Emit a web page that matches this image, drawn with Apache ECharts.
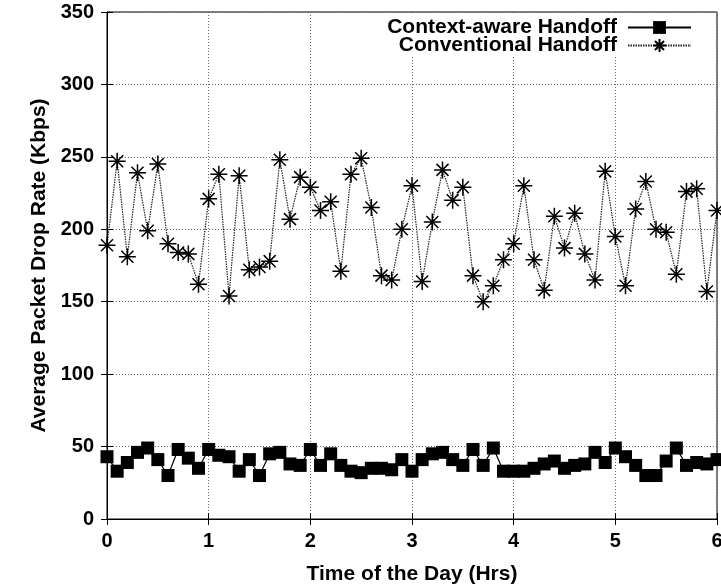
<!DOCTYPE html>
<html><head><meta charset="utf-8">
<script src="https://cdn.jsdelivr.net/npm/echarts@6/dist/echarts.min.js"></script>
<style>html,body{margin:0;padding:0;background:#fff}#c{width:721px;height:586px}</style>
</head><body><div id="c"></div>
<script>
const times = [0,0.1,0.2,0.3,0.4,0.5,0.6,0.7,0.8,0.9,1.0,1.1,1.2,1.3,1.4,1.5,1.6,1.7,1.8,1.9,2.0,2.1,2.2,2.3,2.4,2.5,2.6,2.7,2.8,2.9,3.0,3.1,3.2,3.3,3.4,3.5,3.6,3.7,3.8,3.9,4.0,4.1,4.2,4.3,4.4,4.5,4.6,4.7,4.8,4.9,5.0,5.1,5.2,5.3,5.4,5.5,5.6,5.7,5.8,5.9,6.0];
const contextAware = [43,33,39,46,49,41,30,48,42,35,48,44,43,33,41,30,45,46,38,37,48,37,45,37,33,32,35,35,34,41,33,41,45,46,41,37,48,37,49,33,33,33,35,38,40,35,37,38,46,39,49,43,37,30,30,40,49,37,39,38,41];
const conventional = [189,247,181,239,199,245,190,184,183,162,221,238,154,237,172,174,178,248,207,236,229,213,219,171,238,249,215,168,165,200,230,164,205,241,220,229,168,150,161,179,190,230,179,158,209,187,211,183,165,240,195,161,214,233,200,198,169,226,228,157,213];
const seriesNames = ['Context-aware Handoff', 'Conventional Handoff'];
const xTitle = 'Time of the Day (Hrs)';
const yTitle = 'Average Packet Drop Rate (Kbps)';

const FONT = "'Liberation Sans', Arial, sans-serif";
const pairs = (ys) => times.map((t, i) => [t, ys[i]]);
const asterisk = 'path://M0,-10L0,10M-10,0L10,0M-7.07,-7.07L7.07,7.07M-7.07,7.07L7.07,-7.07';

const chart = echarts.init(document.getElementById('c'), null, {renderer: 'canvas'});
const mirrorAxis = {
  axisLine: {show: true, lineStyle: {color: '#000', width: 1}},
  axisTick: {show: true, inside: true, length: 6, lineStyle: {color: '#000'}},
  axisLabel: {show: false},
  splitLine: {show: false}
};
const legendText = {fontFamily: FONT, fontWeight: 'bold', fontSize: 21, color: '#000', padding: [0, 6, 0, 0]};
chart.setOption({
  animation: false,
  backgroundColor: '#fff',
  textStyle: {fontFamily: FONT},
  grid: {left: 107, right: 4, top: 12, bottom: 67, show: true, borderColor: '#000', borderWidth: 1,
         containLabel: false, outerBoundsMode: 'none'},
  graphic: [{type: 'rect', z: 1, shape: {x: 383, y: 13, width: 333, height: 43}, style: {fill: '#fff'}}],
  legend: [
    {data: [seriesNames[0]], right: 29, top: 17, align: 'right', itemWidth: 63, itemHeight: 16, padding: 0, z: 6, textStyle: legendText},
    {data: [seriesNames[1]], right: 29, top: 35, align: 'right', itemWidth: 63, itemHeight: 16, padding: 0, z: 6, textStyle: legendText}
  ],
  xAxis: [
    {type: 'value', min: 0, max: 6, interval: 1, position: 'bottom',
     name: xTitle, nameLocation: 'middle', nameGap: 45,
     nameTextStyle: {fontFamily: FONT, fontWeight: 'bold', fontSize: 21, color: '#000'},
     axisLine: {show: true, lineStyle: {color: '#000', width: 1}},
     axisTick: {show: true, inside: true, length: 6, lineStyle: {color: '#000'}},
     axisLabel: {fontFamily: FONT, fontWeight: 'bold', fontSize: 20, color: '#000', margin: 12, showMaxLabel: true},
     splitLine: {show: true, lineStyle: {color: '#666', type: [1, 2], width: 1}}},
    Object.assign({type: 'value', min: 0, max: 6, interval: 1, position: 'top', z: 7}, mirrorAxis)
  ],
  yAxis: [
    {type: 'value', min: 0, max: 350, interval: 50, position: 'left',
     name: yTitle, nameLocation: 'middle', nameGap: 50, nameRotate: 90,
     nameTextStyle: {fontFamily: FONT, fontWeight: 'bold', fontSize: 21, color: '#000'},
     axisLine: {show: true, lineStyle: {color: '#000', width: 1}},
     axisTick: {show: true, inside: true, length: 6, lineStyle: {color: '#000'}},
     axisLabel: {fontFamily: FONT, fontWeight: 'bold', fontSize: 20, color: '#000', margin: 13},
     splitLine: {show: true, lineStyle: {color: '#666', type: [1, 2], width: 1}}},
    Object.assign({type: 'value', min: 0, max: 350, interval: 50, position: 'right', z: 7}, mirrorAxis)
  ],
  series: [
    {name: seriesNames[0], type: 'line', data: pairs(contextAware), z: 3,
     symbol: 'rect', symbolSize: 13,
     lineStyle: {color: '#000', width: 1.2, type: 'solid'},
     itemStyle: {color: '#000'}},
    {name: seriesNames[1], type: 'line', data: pairs(conventional), z: 3,
     symbol: asterisk, symbolSize: 17,
     lineStyle: {color: '#222', width: 1.2, type: [1.5, 1]},
     itemStyle: {color: '#000', borderColor: '#000', borderWidth: 1.5}}
  ]
});
</script></body></html>
